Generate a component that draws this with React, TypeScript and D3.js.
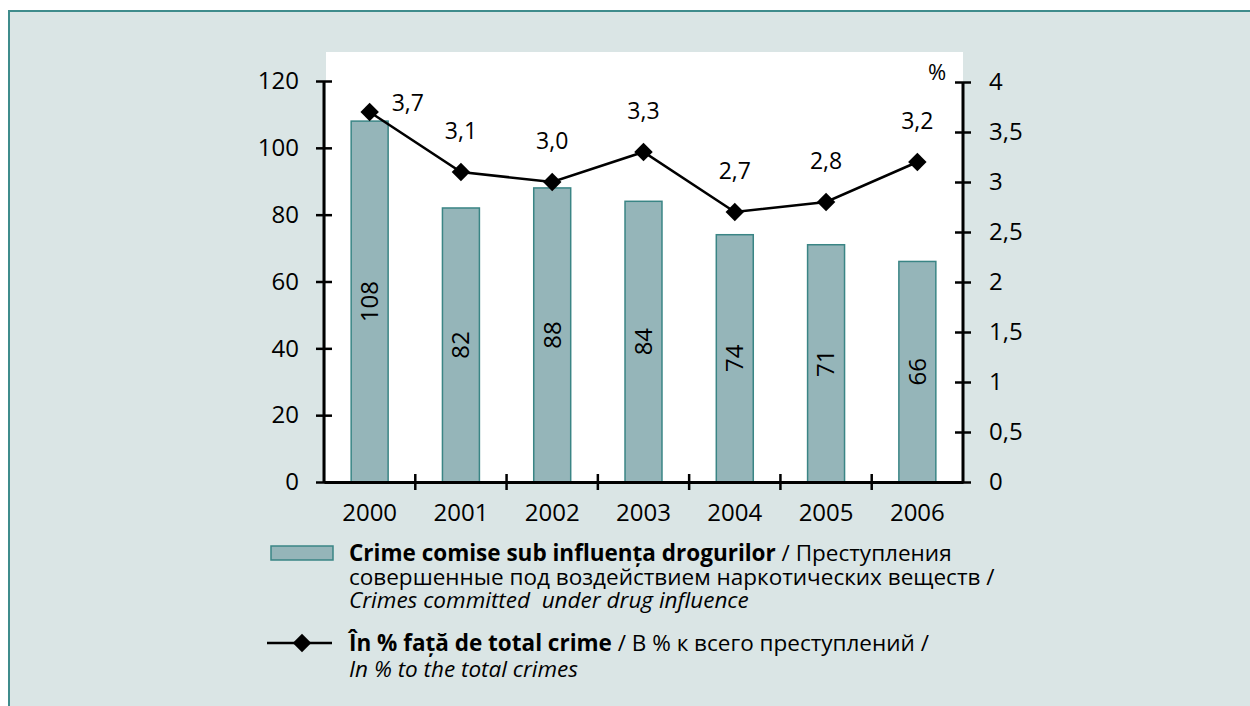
import React, { useEffect, useRef } from "react";
import * as d3 from "d3";

const years = ["2000", "2001", "2002", "2003", "2004", "2005", "2006"];
const crimes = [108, 82, 88, 84, 74, 71, 66];
const percent = [3.7, 3.1, 3.0, 3.3, 2.7, 2.8, 3.2];
const leftTicks = [0, 20, 40, 60, 80, 100, 120];
const rightTicks = [0, 0.5, 1, 1.5, 2, 2.5, 3, 3.5, 4];

const FONT = "'Open Sans', 'Noto Sans', sans-serif";

const Chart = () => {
  const ref = useRef<SVGSVGElement>(null);

  useEffect(() => {
    const svg = d3.select(ref.current);
    svg.selectAll("*").remove();

    const width = 1250;
    const height = 706;
    const plot = { left: 324, right: 963, top: 52, bottom: 482 };

    svg.attr("width", width).attr("height", height);

    // frame
    svg
      .append("rect")
      .attr("x", 9)
      .attr("y", 11)
      .attr("width", width + 20)
      .attr("height", height + 20)
      .attr("fill", "#dae5e5")
      .attr("stroke", "#3f8c8c")
      .attr("stroke-width", 2);

    svg
      .append("rect")
      .attr("x", plot.left + 2)
      .attr("y", plot.top)
      .attr("width", plot.right - plot.left - 2)
      .attr("height", plot.bottom - plot.top)
      .attr("fill", "#ffffff");

    const x = d3
      .scaleBand()
      .domain(years)
      .range([plot.left, plot.right])
      .paddingInner(0.595)
      .paddingOuter(0.2975);

    const y = d3.scaleLinear().domain([0, 120]).range([plot.bottom, 81]);
    const y2 = d3.scaleLinear().domain([0, 4]).range([plot.bottom, 82]);

    // bars
    svg
      .append("g")
      .selectAll("rect")
      .data(crimes)
      .join("rect")
      .attr("x", (d, i) => x(years[i])!)
      .attr("y", (d) => y(d))
      .attr("width", x.bandwidth())
      .attr("height", (d) => y(0) - y(d))
      .attr("fill", "#95b5b9")
      .attr("stroke", "#3a8585")
      .attr("stroke-width", 1.5);

    svg
      .append("g")
      .selectAll("text")
      .data(crimes)
      .join("text")
      .attr(
        "transform",
        (d, i) =>
          `translate(${x(years[i])! + x.bandwidth() / 2},${(y(d) + y(0)) / 2}) rotate(-90)`
      )
      .attr("text-anchor", "middle")
      .attr("dy", "0.35em")
      .attr("font-family", FONT)
      .attr("font-size", 24)
      .text((d) => d);

    // left axis
    const fmt = (v: number) => String(v).replace(".", ",");
    const gl = svg
      .append("g")
      .attr("transform", `translate(${plot.left},0)`)
      .call(d3.axisLeft(y).tickValues(leftTicks).tickSize(8).tickPadding(17));
    gl.selectAll(".tick line").attr("x1", 8).attr("stroke-width", 2.5);
    gl.select(".domain").attr("d", `M0,${plot.bottom}V${plot.top + 29}`).attr("stroke-width", 3);
    gl.selectAll("text").attr("font-family", FONT).attr("font-size", 24).attr("fill", "#000");

    // right axis
    const gr = svg
      .append("g")
      .attr("transform", `translate(${plot.right},0)`)
      .call(d3.axisRight(y2).tickValues(rightTicks).tickSize(8).tickPadding(18).tickFormat((d) => fmt(+d)));
    gr.selectAll(".tick line").attr("x1", -8).attr("stroke-width", 2.5);
    gr.select(".domain").attr("d", `M0,${plot.bottom}V${plot.top + 30}`).attr("stroke-width", 3);
    gr.selectAll("text").attr("font-family", FONT).attr("font-size", 24).attr("fill", "#000");

    svg
      .append("text")
      .attr("x", plot.right - 26)
      .attr("y", 80)
      .attr("text-anchor", "middle")
      .attr("font-family", FONT)
      .attr("font-size", 22)
      .text("%");

    // bottom axis
    const gb = svg
      .append("g")
      .attr("transform", `translate(0,${plot.bottom})`)
      .call(d3.axisBottom(x).tickSize(0).tickPadding(22));
    gb.select(".domain").attr("stroke-width", 3);
    gb.selectAll("text").attr("font-family", FONT).attr("font-size", 24).attr("fill", "#000");

    svg
      .append("g")
      .selectAll("line")
      .data(d3.range(1, years.length))
      .join("line")
      .attr("x1", (i) => plot.left + i * x.step())
      .attr("x2", (i) => plot.left + i * x.step())
      .attr("y1", plot.bottom - 8)
      .attr("y2", plot.bottom + 8)
      .attr("stroke", "#000")
      .attr("stroke-width", 2.5);

    // line series
    const cx = (i: number) => x(years[i])! + x.bandwidth() / 2;
    const line = d3
      .line<number>()
      .x((d, i) => cx(i))
      .y((d) => y2(d));

    svg
      .append("path")
      .datum(percent)
      .attr("d", line)
      .attr("fill", "none")
      .attr("stroke", "#000")
      .attr("stroke-width", 2.5);

    const diamond = d3.symbol().type(d3.symbolSquare).size(170);
    svg
      .append("g")
      .selectAll("path")
      .data(percent)
      .join("path")
      .attr("d", diamond)
      .attr("transform", (d, i) => `translate(${cx(i)},${y2(d)}) rotate(45)`)
      .attr("fill", "#000");

    svg
      .append("g")
      .selectAll("text")
      .data(percent)
      .join("text")
      .attr("x", (d, i) => (i === 0 ? cx(i) + 22 : cx(i)))
      .attr("y", (d, i) => (i === 0 ? y2(d) - 1 : y2(d) - 33))
      .attr("text-anchor", (d, i) => (i === 0 ? "start" : "middle"))
      .attr("font-family", FONT)
      .attr("font-size", 23)
      .text((d) => d.toFixed(1).replace(".", ","));

    // legend
    const lx = 349;
    svg
      .append("rect")
      .attr("x", 271)
      .attr("y", 546)
      .attr("width", 62)
      .attr("height", 14)
      .attr("fill", "#95b5b9")
      .attr("stroke", "#3a8585")
      .attr("stroke-width", 1.5);

    const legendText = (yy: number) =>
      svg
        .append("text")
        .attr("x", lx)
        .attr("y", yy)
        .attr("font-family", FONT)
        .attr("font-size", 22.5);

    const t1 = legendText(561);
    t1.append("tspan").attr("font-weight", "bold").text("Crime comise sub influența drogurilor");
    t1.append("tspan").text(" / Преступления");
    legendText(585).text("совершенные под воздействием наркотических веществ /");
    legendText(608).attr("font-style", "italic").text("Crimes committed\u00a0 under drug influence");

    svg
      .append("line")
      .attr("x1", 267)
      .attr("x2", 332)
      .attr("y1", 643)
      .attr("y2", 643)
      .attr("stroke", "#000")
      .attr("stroke-width", 2.5);
    svg
      .append("path")
      .attr("d", diamond)
      .attr("transform", `translate(302,643) rotate(45)`)
      .attr("fill", "#000");

    const t2 = legendText(651);
    t2.append("tspan").attr("font-weight", "bold").text("În % față de total crime");
    t2.append("tspan").text(" / В % к всего преступлений /");
    legendText(677).attr("font-style", "italic").text("In % to the total crimes");
  }, []);

  return <svg ref={ref} style={{ display: "block", position: "absolute", left: 0, top: 0 }}></svg>;
};

export default function App() {
  return <Chart />;
}
